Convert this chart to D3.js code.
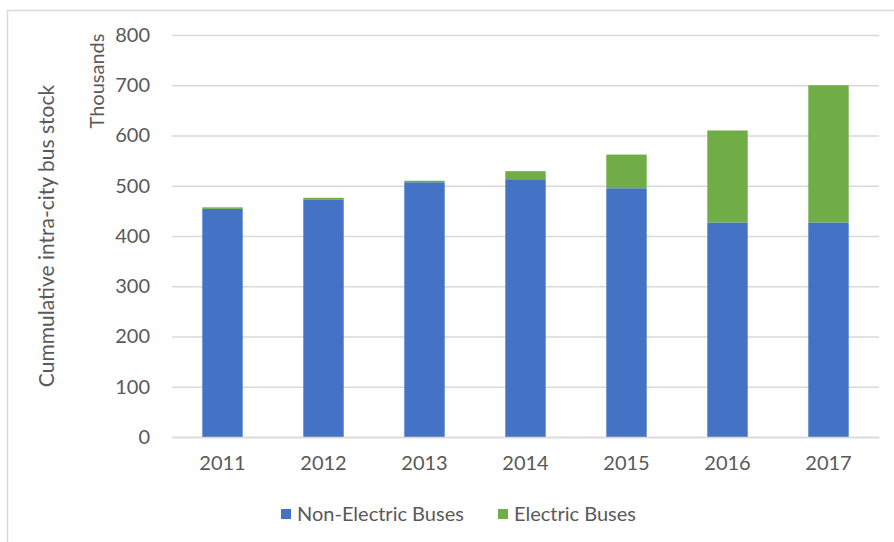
<!DOCTYPE html>
<html>
<head>
<meta charset="utf-8">
<script src="https://cdn.jsdelivr.net/npm/d3@7"></script>
<style>
  html, body { margin: 0; padding: 0; background: #fff; }
  svg { display: block; }
  text { font-family: Lato, "Open Sans", sans-serif; fill: #595959; }
</style>
</head>
<body>
<svg id="chart" width="894" height="542"></svg>
<script>
const years = ["2011", "2012", "2013", "2014", "2015", "2016", "2017"];
const nonElectric = [454, 473, 507, 513, 495, 427, 427];
const electric = [3, 3, 3, 16, 67, 183, 273];
const yTicks = [0, 100, 200, 300, 400, 500, 600, 700, 800];
const seriesNames = ["Non-Electric Buses", "Electric Buses"];
const seriesColors = ["#4472C4", "#70AD47"];

const svg = d3.select("#chart");

// outer chart border
svg.append("rect")
  .attr("x", 7.5).attr("y", 10.5)
  .attr("width", 900).attr("height", 560)
  .attr("fill", "none").attr("stroke", "#D9D9D9").attr("stroke-width", 1.5);

const x = d3.scaleBand().domain(years).range([172, 879]).paddingInner(0.6).paddingOuter(0.3);
const y = d3.scaleLinear().domain([0, 800]).range([437, 35]);

// gridlines
const yAxis = d3.axisLeft(y).tickValues(yTicks).tickSize(-(879 - 172)).tickPadding(22);
const gy = svg.append("g").attr("transform", "translate(172,0)").call(yAxis);
gy.select(".domain").remove();
gy.selectAll(".tick line").attr("stroke", "#D9D9D9").attr("stroke-width", 1.3);
gy.selectAll(".tick text").attr("font-size", 20).attr("fill", "#595959").attr("font-family", "Lato, sans-serif");

// stacked data
const rows = years.map((yr, i) => ({ year: yr, nonElectric: nonElectric[i], electric: electric[i] }));
const stack = d3.stack().keys(["nonElectric", "electric"]);
const layers = stack(rows);

svg.append("g").selectAll("g").data(layers).join("g")
  .attr("fill", (d, i) => seriesColors[i])
  .selectAll("rect").data(d => d).join("rect")
  .attr("x", d => x(d.data.year))
  .attr("width", x.bandwidth())
  .attr("y", d => y(d[1]))
  .attr("height", d => y(d[0]) - y(d[1]));

// x axis
const xAxis = d3.axisBottom(x).tickSize(0).tickPadding(19);
const gx = svg.append("g").attr("transform", "translate(0,437)").call(xAxis);
gx.select(".domain").attr("stroke", "#D9D9D9").attr("stroke-width", 1.3);
gx.selectAll(".tick text").attr("font-size", 20).attr("fill", "#595959").attr("font-family", "Lato, sans-serif");

// axis titles
svg.append("text")
  .attr("transform", "translate(54,236) rotate(-90)")
  .attr("text-anchor", "middle")
  .attr("font-size", 21)
  .text("Cummulative intra-city bus stock");
svg.append("text")
  .attr("transform", "translate(104,81) rotate(-90)")
  .attr("text-anchor", "middle")
  .attr("font-size", 20)
  .text("Thousands");

// legend
const legendX = [281, 498];
const lg = svg.append("g");
seriesNames.forEach((name, i) => {
  lg.append("rect").attr("x", legendX[i]).attr("y", 509).attr("width", 10).attr("height", 10).attr("fill", seriesColors[i]);
  lg.append("text").attr("x", legendX[i] + 16).attr("y", 521).attr("font-size", 20).text(name);
});
</script>
</body>
</html>
